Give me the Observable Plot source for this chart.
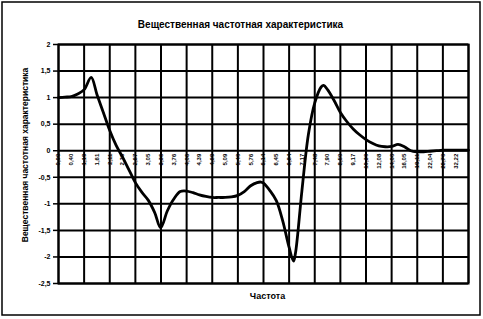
<!DOCTYPE html>
<html>
<head>
<meta charset="utf-8">
<script src="https://cdn.jsdelivr.net/npm/d3@7"></script>
<script src="https://cdn.jsdelivr.net/npm/@observablehq/plot@0.6"></script>
<style>
  html, body { margin: 0; padding: 0; background: #fff; }
  #chart { position: relative; width: 483px; height: 319px; }
  svg { display: block; }
</style>
</head>
<body>
<div id="chart"></div>
<script>
const titleText = "Вещественная частотная характеристика";
const yTitleText = "Вещественная частотная характеристика";
const xTitleText = "Частота";

// Category tick labels (frequency), one per category position
const xLabels = ["0,00","0,40","1,19","1,61","2,11","2,36","2,67","3,05","3,36","3,76",
  "4,06","4,39","4,69","5,09","5,40","5,76","6,14","6,45","6,84","7,17",
  "7,48","7,90","8,50","9,17","10,30","12,08","14,00","16,05","19,11","22,04",
  "26,70","32,22"];

const yTicks = [2, 1.5, 1, 0.5, 0, -0.5, -1, -1.5, -2, -2.5];

// Curve: position along category axis, value
const pos = [0,0.5,1,1.5,2,2.55,3,3.5,4,4.5,5,5.5,6,6.5,7,7.5,7.97,8.5,9,9.5,
  10,10.5,11,11.5,12,12.5,13,13.5,14,14.5,15,15.5,15.8,16,16.5,17,17.5,18,18.34,18.5,
  19,19.5,20,20.5,20.7,21,21.5,22,22.5,23,23.5,24,24.5,25,25.5,26,26.5,27,27.5,28,
  28.5,29,29.5,30,30.5,31,31.5,32];
const val = [1.00,1.01,1.02,1.07,1.15,1.38,1.06,0.72,0.38,0.10,-0.12,-0.36,-0.60,-0.78,-0.93,-1.16,-1.45,-1.13,-0.91,-0.77,
  -0.76,-0.79,-0.83,-0.86,-0.88,-0.88,-0.88,-0.87,-0.84,-0.77,-0.66,-0.60,-0.59,-0.61,-0.75,-0.94,-1.32,-1.82,-2.08,-1.92,
  -0.75,0.30,0.90,1.20,1.23,1.15,0.95,0.72,0.55,0.41,0.30,0.21,0.14,0.09,0.075,0.08,0.12,0.075,0.0,-0.02,
  -0.02,-0.01,0.0,0.01,0.01,0.01,0.01,0.01];

const curve = pos.map((p, i) => ({p, v: val[i]}));
const labelData = xLabels.map((t, i) => ({i, t}));
const gridXTicks = d3.range(0, 33, 2);
const fmt = d => String(d).replace(".", ",");

const font = "'Liberation Sans', Arial, sans-serif";

const chart = Plot.plot({
  width: 483,
  height: 319,
  marginLeft: 58,
  marginRight: 15,
  marginTop: 44,
  marginBottom: 36,
  style: {fontFamily: font, background: "#fff", color: "#000"},
  x: {type: "linear", domain: [0, 32], axis: null},
  y: {domain: [-2.5, 2], axis: null},
  marks: [
    Plot.gridX(gridXTicks, {stroke: "#000", strokeOpacity: 1, strokeWidth: 2}),
    Plot.gridY(yTicks, {stroke: "#000", strokeOpacity: 1, strokeWidth: 2}),
    Plot.frame({stroke: "#000", strokeWidth: 2}),
    Plot.axisY(yTicks, {tickFormat: fmt, tickSize: 5, tickPadding: 3, fontSize: 7, fontWeight: "bold", strokeWidth: 1.5, label: null}),
    Plot.text(labelData, {x: "i", y: () => 0, text: "t", rotate: -90, textAnchor: "end", lineAnchor: "middle", dy: 3, fontSize: 6, fontWeight: "bold", fill: "#000"}),
    Plot.line(curve, {x: "p", y: "v", curve: "catmull-rom", stroke: "#000", strokeWidth: 2.8}),
    Plot.text([titleText], {frameAnchor: "top", dy: -24, dx: -23, fontSize: 10, fontWeight: "bold", fill: "#000"}),
    Plot.text([xTitleText], {frameAnchor: "bottom", dy: 15, dx: 4, fontSize: 9, fontWeight: "bold", fill: "#000"}),
    Plot.text([yTitleText], {frameAnchor: "left", rotate: -90, textAnchor: "middle", dx: -33, dy: -9, fontSize: 8.5, fontWeight: "bold", fill: "#000"})
  ]
});

d3.select(chart).append("rect")
  .attr("x", 2).attr("y", 2).attr("width", 478).attr("height", 313)
  .attr("fill", "none").attr("stroke", "#000").attr("stroke-width", 1.5);

document.getElementById("chart").appendChild(chart);
</script>
</body>
</html>
